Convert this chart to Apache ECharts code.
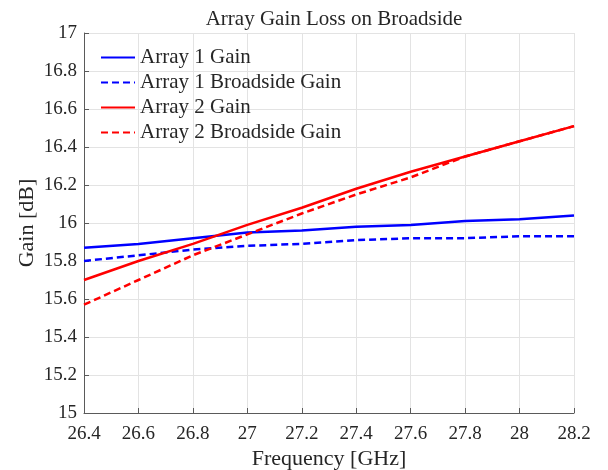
<!DOCTYPE html>
<html>
<head>
<meta charset="utf-8">
<script src="https://cdn.jsdelivr.net/npm/echarts@6/dist/echarts.min.js"></script>
<style>
html,body{margin:0;padding:0;background:#fff;}
#chart{width:608px;height:470px;}
</style>
</head>
<body>
<div id="chart"></div>
<script>
var frequency = [26.4, 26.6, 26.8, 27.0, 27.2, 27.4, 27.6, 27.8, 28.0, 28.2];
var array1Gain = [15.87, 15.89, 15.92, 15.95, 15.96, 15.98, 15.99, 16.01, 16.02, 16.04];
var array1Broadside = [15.80, 15.83, 15.86, 15.88, 15.89, 15.91, 15.92, 15.92, 15.93, 15.93];
var array2Gain = [15.70, 15.80, 15.89, 15.99, 16.08, 16.18, 16.27, 16.35, 16.43, 16.51];
var array2Broadside = [15.57, 15.70, 15.83, 15.94, 16.05, 16.15, 16.24, 16.35, 16.43, 16.51];
var seriesNames = ['Array 1 Gain', 'Array 1 Broadside Gain', 'Array 2 Gain', 'Array 2 Broadside Gain'];

function pairs(ys) { return frequency.map(function (x, i) { return [x, ys[i]]; }); }

var FONT = 'Liberation Serif';
var TXT = '#262626';
var AX = '#5a5a5a';
var GRID = '#e3e3e3';

function mkSeries(name, ys, color, dashed) {
  return {
    name: name, type: 'line', data: pairs(ys), symbol: 'none', smooth: false,
    lineStyle: { color: color, width: 2.5, type: dashed ? [7, 4] : 'solid' },
    itemStyle: { color: color },
    emphasis: { disabled: true }, animation: false
  };
}

var chart = echarts.init(document.getElementById('chart'), null, { renderer: 'canvas' });
chart.setOption({
  animation: false,
  backgroundColor: '#fff',
  title: {
    text: 'Array Gain Loss on Broadside', left: 329, top: 4, textAlign: 'center',
    textStyle: { fontFamily: FONT, fontSize: 21, fontWeight: 'normal', color: TXT }
  },
  legend: {
    orient: 'vertical', left: 100, top: 47, padding: 0, itemWidth: 34, itemHeight: 14, itemGap: 4,
    itemStyle: { color: 'transparent', borderWidth: 0, opacity: 0 },
    textStyle: { fontFamily: FONT, fontSize: 21, color: TXT, lineHeight: 20 },
    data: seriesNames
  },
  grid: { left: 84, right: 34, top: 33, bottom: 57, outerBoundsMode: 'none', containLabel: false },
  xAxis: {
    type: 'value', min: 26.4, max: 28.2, interval: 0.2,
    name: 'Frequency [GHz]', nameLocation: 'middle', nameGap: 35, nameMoveOverlap: false,
    nameTextStyle: { fontFamily: FONT, fontSize: 22, color: TXT },
    axisLine: { show: true, lineStyle: { color: AX, width: 1 } },
    axisTick: { show: true, inside: true, length: 5, lineStyle: { color: AX } },
    axisLabel: { fontFamily: FONT, fontSize: 19, color: TXT, margin: 12,
      formatter: function (v) { return String(+v.toFixed(1)); } },
    splitLine: { show: true, lineStyle: { color: GRID, width: 1 } }
  },
  yAxis: {
    type: 'value', min: 15, max: 17, interval: 0.2,
    name: 'Gain [dB]', nameLocation: 'middle', nameGap: 46, nameMoveOverlap: false,
    nameTextStyle: { fontFamily: FONT, fontSize: 22, color: TXT },
    axisLine: { show: true, lineStyle: { color: AX, width: 1 } },
    axisTick: { show: true, inside: true, length: 5, lineStyle: { color: AX } },
    axisLabel: { fontFamily: FONT, fontSize: 19, color: TXT, margin: 7,
      formatter: function (v) { return String(+v.toFixed(1)); } },
    splitLine: { show: true, lineStyle: { color: GRID, width: 1 } }
  },
  series: [
    mkSeries(seriesNames[0], array1Gain, '#0000ff', false),
    mkSeries(seriesNames[1], array1Broadside, '#0000ff', true),
    mkSeries(seriesNames[2], array2Gain, '#ff0000', false),
    mkSeries(seriesNames[3], array2Broadside, '#ff0000', true)
  ]
});
</script>
</body>
</html>
